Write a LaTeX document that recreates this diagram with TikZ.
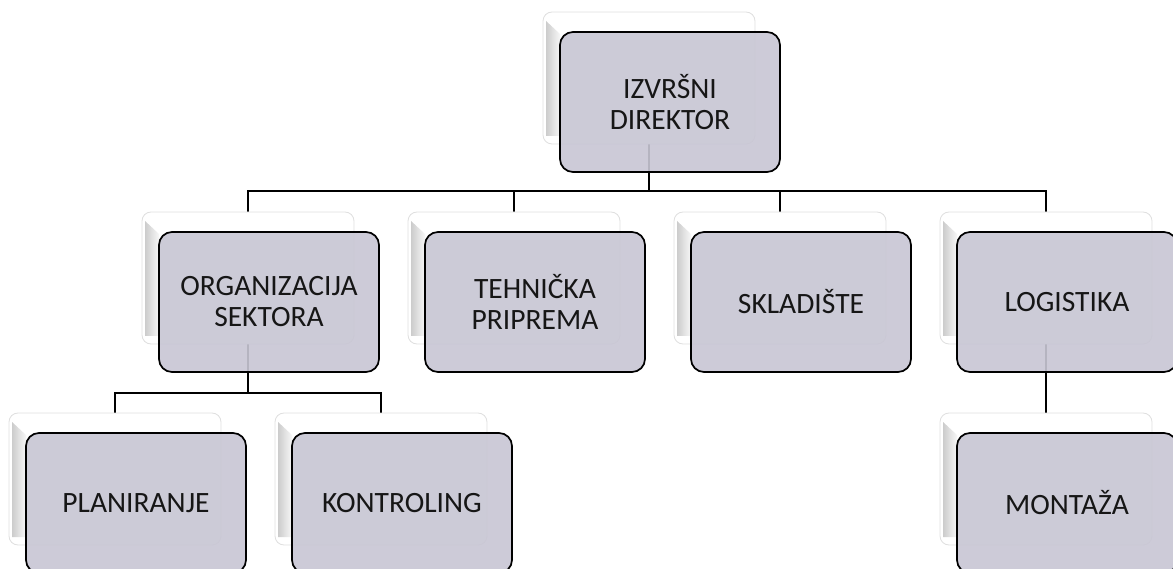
\documentclass[tikz,border=0pt]{standalone}
\usepackage{fontspec}
\setmainfont{Carlito}
\pgfdeclarelayer{background}
\pgfsetlayers{background,main}
\definecolor{boxfill}{RGB}{200,198,212}
\definecolor{txt}{RGB}{22,22,22}
\newcommand\orgunit[4]{%
  \node[card] (b#1) at (#2,#3+66) {};
  \shade[left color=gray!40, right color=gray!6] (#2-103,#3+9) -- (#2-89,#3+22) -- (#2-89,#3+124) -- (#2-103,#3+124) -- cycle;
  \node[unit] (f#1) at (#2+21,#3+90) {#4};
}
\begin{document}
\begin{tikzpicture}[x=1pt,y=-1pt,
  card/.style={draw=gray!25, line width=0.8pt, fill=white, rounded corners=9pt,
    minimum width=212pt, minimum height=132pt, inner sep=0pt},
  unit/.style={draw=black, line width=1.7pt, fill=boxfill, fill opacity=0.91,
    text opacity=1, draw opacity=1, rounded corners=13pt, minimum width=220pt,
    minimum height=140pt, align=center, text=txt,
    font=\fontsize{29.5}{31}\selectfont, inner sep=0pt},
  link/.style={draw=black, line width=1.6pt}]
\useasboundingbox (0,0) rectangle (1173,569);
\clip (0,0) rectangle (1173,569);
\orgunit{0}{649}{12}{IZVRŠNI\\DIREKTOR}
\orgunit{1}{248}{212}{ORGANIZACIJA\\SEKTORA}
\orgunit{2}{514}{212}{TEHNIČKA\\PRIPREMA}
\orgunit{3}{780}{212}{SKLADIŠTE}
\orgunit{4}{1046}{212}{LOGISTIKA}
\orgunit{5}{115}{413}{PLANIRANJE}
\orgunit{6}{381}{413}{KONTROLING}
\orgunit{7}{1046}{413}{MONTAŽA}
\coordinate (j0) at (649,191);
\coordinate (j1) at (248,393);
\begin{pgfonlayer}{background}
\draw[link] (b0.south) -- (j0);
\draw[link] (b1.north) |- (j0) -| (b4.north);
\draw[link] (b2.north) -- (b2.north |- j0);
\draw[link] (b3.north) -- (b3.north |- j0);
\draw[link] (b1.south) -- (j1);
\draw[link] (b5.north) |- (j1) -| (b6.north);
\draw[link] (b4.south) -- (b7.north);
\end{pgfonlayer}
\end{tikzpicture}
\end{document}
